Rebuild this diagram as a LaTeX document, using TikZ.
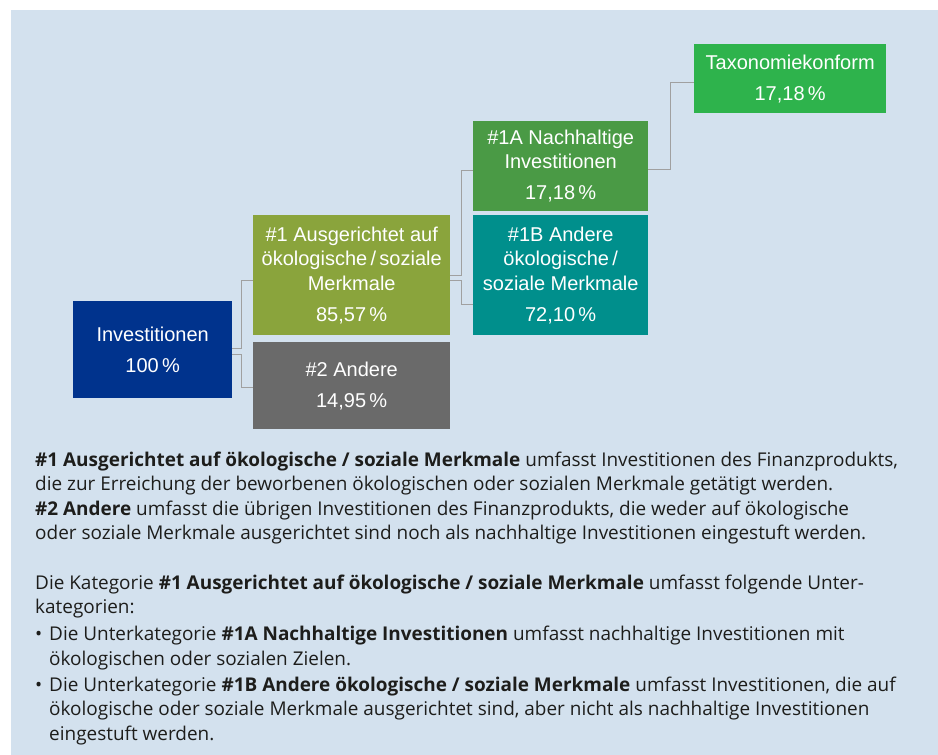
\documentclass[tikz,border=0pt]{standalone}
\usepackage{fontspec}
\setmainfont{Open Sans}
\newfontfamily\boxfont{Liberation Sans}
\definecolor{bgc}{RGB}{211,225,238}
\definecolor{invc}{RGB}{0,51,141}
\definecolor{olivec}{RGB}{138,164,60}
\definecolor{grayc}{RGB}{106,106,106}
\definecolor{greenA}{RGB}{74,154,69}
\definecolor{tealc}{RGB}{0,143,140}
\definecolor{taxc}{RGB}{46,179,76}
\definecolor{connc}{RGB}{160,160,160}
\definecolor{bodyc}{RGB}{29,29,27}
\begin{document}
\begin{tikzpicture}[x=1pt,y=-1pt,
  box/.style={draw=none, inner sep=0pt, anchor=north west, text=white, align=center,
    font=\boxfont\fontsize{20}{24.5}\selectfont},
  conn/.style={draw=connc, line width=1.3pt},
  body/.style={anchor=base west, inner sep=0pt, text=bodyc, font=\fontsize{18.95}{24}\selectfont}]
\useasboundingbox (0,0) rectangle (938,755);
\fill[bgc] (11,10) rectangle (938,755);

% boxes
\node[box, fill=invc, minimum width=159pt, minimum height=97pt] (inv) at (73,301)
  {Investitionen\\[6.5pt]100\,\%};
\node[box, fill=olivec, minimum width=197pt, minimum height=120pt] (b1) at (253,215)
  {\#1 Ausgerichtet auf\\ökologische\,/\,soziale\\Merkmale\\[6.5pt]85,57\,\%};
\node[box, fill=grayc, minimum width=197pt, minimum height=87pt] (b2) at (253,342)
  {\#2 Andere\\[6.5pt]14,95\,\%};
\node[box, fill=greenA, minimum width=175pt, minimum height=90pt] (a1) at (473,121)
  {\#1A Nachhaltige\\Investitionen\\[6.5pt]17,18\,\%};
\node[box, fill=tealc, minimum width=175pt, minimum height=120pt] (a2) at (473,215)
  {\#1B Andere\\ökologische\,/\\soziale Merkmale\\[6.5pt]72,10\,\%};
\node[box, fill=taxc, minimum width=192pt, minimum height=69pt] (tax) at (694,44)
  {Taxonomiekonform\\[6.5pt]17,18\,\%};

% connectors
\draw[conn] ([yshift=1pt]inv.east) -- ++(9,0) |- ([yshift=-5pt]b1.west);
\draw[conn] ([yshift=-5pt]inv.east) -- ++(9,0) |- ([yshift=-1.5pt]b2.west);
\draw[conn] (b1.east) -- ++(11,0) |- ([yshift=-4pt]a1.west);
\draw[conn] ([yshift=-5pt]b1.east) -- ++(11,0) |- ([yshift=-29pt]a2.west);
\draw[conn] ([yshift=-3pt]a1.east) -- ++(22,0) |- ([yshift=-3.5pt]tax.west);

% body text
\node[body] (t1) at (35,466) {\textbf{\#1 Ausgerichtet auf ökologische / soziale Merkmale} umfasst Investitionen des Finanzprodukts,};
\node[body] (t2) at (35,490.5) {die zur Erreichung der beworbenen ökologischen oder sozialen Merkmale getätigt werden.};
\node[body] (t3) at (35,515) {\textbf{\#2 Andere} umfasst die übrigen Investitionen des Finanzprodukts, die weder auf ökologische};
\node[body] (t4) at (35,539.5) {oder soziale Merkmale ausgerichtet sind noch als nachhaltige Investitionen eingestuft werden.};
\node[body] (t5) at (35,589) {Die Kategorie \textbf{\#1 Ausgerichtet auf ökologische / soziale Merkmale} umfasst folgende Unter-};
\node[body] (t6) at (35,613) {kategorien:};
\node[body] (bl1) at (35,640) {\textbullet};
\node[body] (t7) at (49,640) {Die Unterkategorie \textbf{\#1A Nachhaltige Investitionen} umfasst nachhaltige Investitionen mit};
\node[body] (t8) at (49,665) {ökologischen oder sozialen Zielen.};
\node[body] (bl2) at (35,691) {\textbullet};
\node[body] (t9) at (49,691) {Die Unterkategorie \textbf{\#1B Andere ökologische / soziale Merkmale} umfasst Investitionen, die auf};
\node[body] (t10) at (49,715) {ökologische oder soziale Merkmale ausgerichtet sind, aber nicht als nachhaltige Investitionen};
\node[body] (t11) at (49,740) {eingestuft werden.};
\end{tikzpicture}
\end{document}
